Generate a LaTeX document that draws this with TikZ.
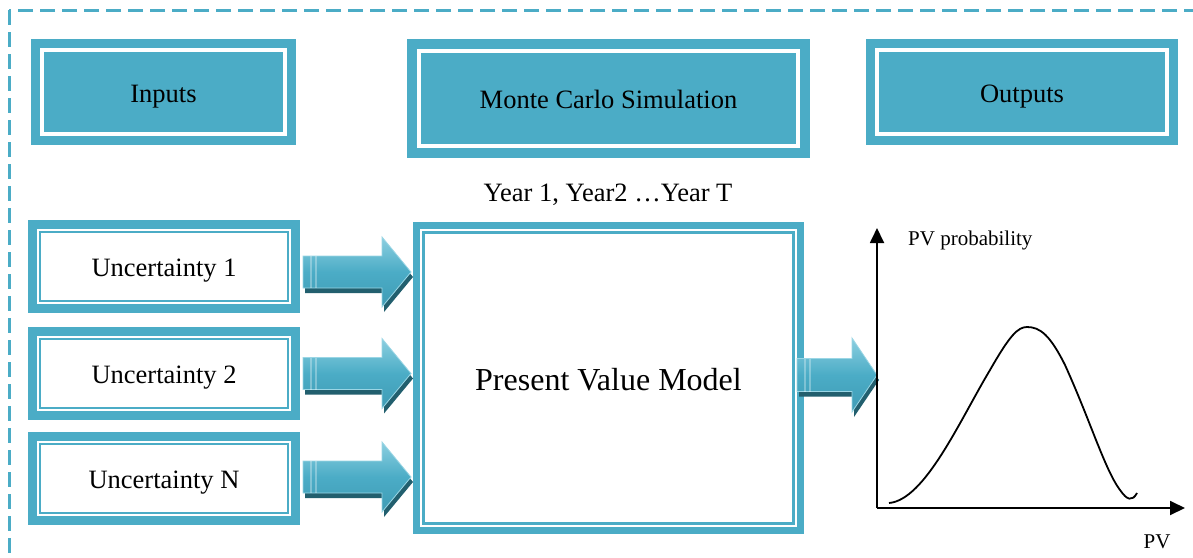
\documentclass[tikz,border=0pt]{standalone}
\usepackage{fontspec}
\setmainfont{Liberation Serif}
\usetikzlibrary{calc,arrows.meta}
\definecolor{teal5}{HTML}{4BACC6}
\definecolor{arrdark}{HTML}{225F6E}
\definecolor{arrlight}{HTML}{8CCFE0}
\definecolor{arrlow}{HTML}{3F9CB5}
\definecolor{arredge}{HTML}{9AD6E5}
\newcommand{\innerframe}[4]{\draw[#4, line width=#3pt] ($(#1.north west)+(#2,#2)$) rectangle ($(#1.south east)+(-#2,-#2)$);}
\newcommand{\fatarrow}[5]{%
 \path[fill=arrdark] let \p1=(#1), \p2=(#2) in
  (\x1+2pt,\y2+#3pt-5pt) -- (\x2-#5pt+2pt,\y2+#3pt-5pt) -- (\x2-#5pt+2pt,\y2+#4pt-5pt) -- (\x2+2pt,\y2-5pt) -- (\x2-#5pt+2pt,\y2-#4pt-5pt) -- (\x2-#5pt+2pt,\y2-#3pt-5pt) -- (\x1+2pt,\y2-#3pt-5pt) -- cycle;
 \path[top color=arrlight, bottom color=arrlow, middle color=teal5, draw=arredge, line width=0.8pt] let \p1=(#1), \p2=(#2) in
  (\x1,\y2+#3pt) -- (\x2-#5pt,\y2+#3pt) -- (\x2-#5pt,\y2+#4pt) -- (\x2,\y2) -- (\x2-#5pt,\y2-#4pt) -- (\x2-#5pt,\y2-#3pt) -- (\x1,\y2-#3pt) -- cycle;
 \draw[white, opacity=.3, line width=1.5pt] let \p1=(#1), \p2=(#2) in
  (\x1+8pt,\y2+#3pt) -- (\x1+8pt,\y2-#3pt) (\x1+13pt,\y2+#3pt) -- (\x1+13pt,\y2-#3pt);
}
\begin{document}
\begin{tikzpicture}[x=1pt,y=-1pt, font=\fontsize{26.5}{30}\selectfont,
  txt/.style={text height=#1, text depth=0pt},
  txt/.default=20pt,
  hbox/.style={txt, fill=teal5, inner sep=0pt, outer sep=0pt},
  ubox/.style={txt, draw=teal5, line width=8.7pt, fill=white, outer sep=0pt, inner sep=0pt,
    minimum width=263.3pt, minimum height=84.3pt},
  ]
\clip (0,0) rectangle (1193,557);
\fill[white] (0,0) rectangle (1193,557);
\draw[teal5, line width=3pt, dash pattern=on 15pt off 7pt] (9,10) rectangle (1300,700);

% header boxes
\node[hbox, minimum width=265pt, minimum height=106pt] (inputs) at (163.5,92) {Inputs};
\innerframe{inputs}{11}{4}{white}
\node[hbox, minimum width=403pt, minimum height=119pt] (mcs) at (608.5,98.5) {Monte Carlo Simulation};
\innerframe{mcs}{12}{4}{white}
\node[hbox, minimum width=312pt, minimum height=106pt] (outputs) at (1022,92) {Outputs};
\innerframe{outputs}{11}{4}{white}

% uncertainty boxes
\node[ubox] (u1) at (164,266.5) {Uncertainty 1};
\innerframe{u1}{7.7}{2.3}{teal5}
\node[ubox] (u2) at (164,373.5) {Uncertainty 2};
\innerframe{u2}{7.7}{2.3}{teal5}
\node[ubox] (u3) at (164,478.5) {Uncertainty N};
\innerframe{u3}{7.7}{2.3}{teal5}

% model box
\node[txt=24pt, draw=teal5, line width=7pt, fill=white, outer sep=0pt, minimum width=384pt, minimum height=305pt,
  font=\fontsize{32}{36}\selectfont] (pv) at (608.5,378) {Present Value Model};
\innerframe{pv}{7.2}{2.7}{teal5}

\node[txt] (years) at (608,191) {Year 1, Year2 …Year T};

% input arrows
\coordinate (a1s) at ($(u1.east)+(7.35,5.5)$);
\coordinate (a1t) at ($(a1s -| pv.west)+(-5.5,0)$);
\fatarrow{a1s}{a1t}{16}{35}{29}
\coordinate (a2s) at ($(u2.east)+(7.35,0)$);
\coordinate (a2t) at ($(a2s -| pv.west)+(-5.5,0)$);
\fatarrow{a2s}{a2t}{16}{35}{29}
\coordinate (a3s) at ($(u3.east)+(7.35,-1.5)$);
\coordinate (a3t) at ($(a3s -| pv.west)+(-5.5,0)$);
\fatarrow{a3s}{a3t}{16}{35}{29}

% graph
\coordinate (O) at (877,508);
\coordinate (ytip) at (877,228);
\coordinate (xtip) at (1185,508);
\coordinate (a4s) at ($(pv.east)+(-3.5,-3)$);
\coordinate (a4t) at (a4s -| O);
\fatarrow{a4s}{a4t}{16.5}{37}{25}
\draw[line width=1.8pt, -{Triangle[length=15pt,width=14pt]}] (O) -- (ytip);
\draw[line width=1.8pt, -{Triangle[length=15pt,width=14pt]}] (O) -- (xtip);
\node[txt=16pt, anchor=west, inner sep=0pt, font=\fontsize{21}{24}\selectfont] (pvprob) at (908,237) {PV probability};
\node[txt=16pt, inner sep=0pt, font=\fontsize{21}{24}\selectfont] (pvlab) at (1157,540) {PV};
\draw[line width=1.8pt] (889,503) .. controls (925,500) and (960,420) .. (990,370)
  .. controls (1010,335) and (1018,327) .. (1027,327)
  .. controls (1040,327) and (1050,335) .. (1065,365)
  .. controls (1090,420) and (1105,470) .. (1120,490)
  .. controls (1127,500) and (1132,502) .. (1137,493);
\end{tikzpicture}
\end{document}
